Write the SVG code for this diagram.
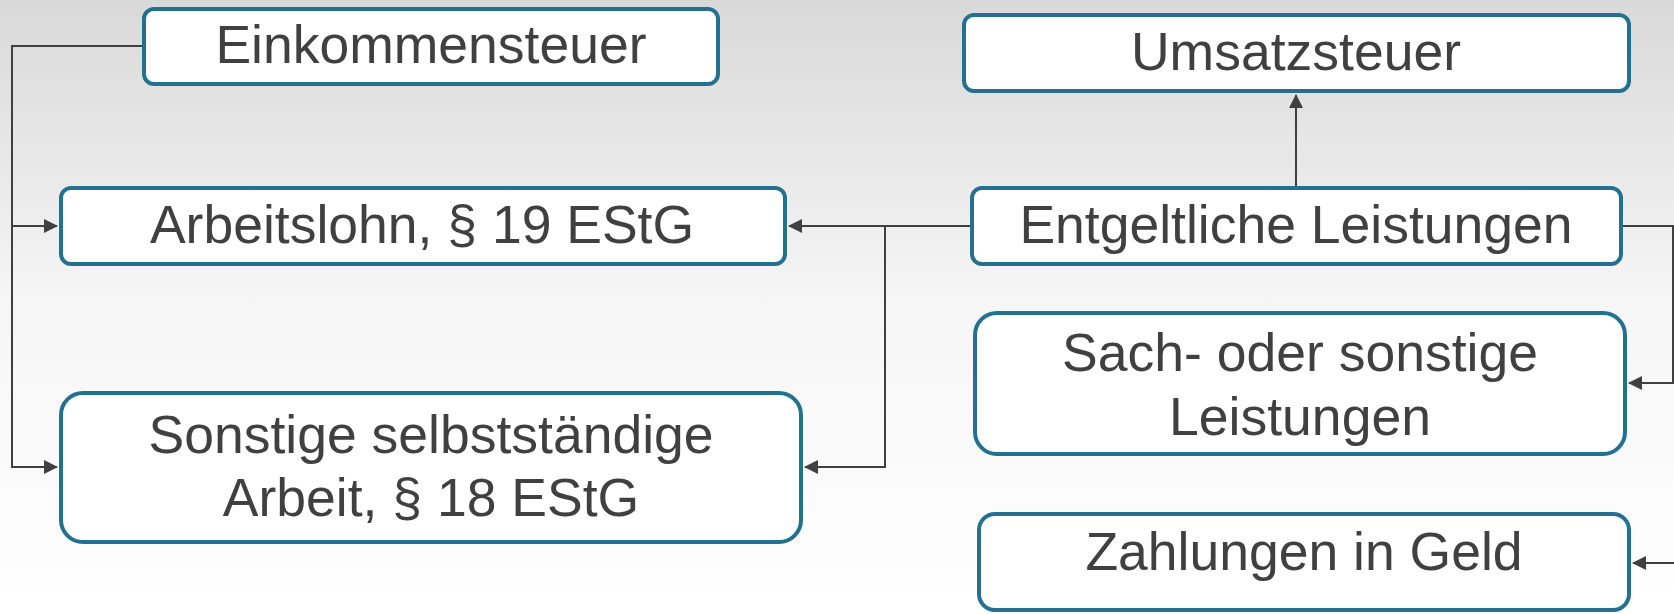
<svg xmlns="http://www.w3.org/2000/svg" width="1674" height="614" viewBox="0 0 1674 614">
<defs>
<linearGradient id="bg" x1="0" y1="0" x2="0" y2="1">
<stop offset="0" stop-color="#d9d9d9"/>
<stop offset="0.5" stop-color="#f6f6f6"/>
<stop offset="1" stop-color="#ffffff"/>
</linearGradient>
<marker id="arr" markerUnits="userSpaceOnUse" markerWidth="14" markerHeight="14" refX="13" refY="7" orient="auto">
<path d="M0,0 L14,7 L0,14 z" fill="#404040"/>
</marker>
<style>
.box{fill:#ffffff;stroke:#24708f;stroke-width:4}
.lbl{font-family:"Liberation Sans",Arial,sans-serif;font-size:53.5px;fill:#404040;text-anchor:middle}
.con{fill:none;stroke:#404040;stroke-width:2}
</style>
</defs>
<rect x="0" y="0" width="1674" height="614" fill="url(#bg)"/>
<g id="connectors">
<path class="con" d="M142,46 H12 V467 H57" marker-end="url(#arr)"/>
<path class="con" d="M12,226 H57" marker-end="url(#arr)"/>
<path class="con" d="M970,226 H789" marker-end="url(#arr)"/>
<path class="con" d="M885,226 V467 H805" marker-end="url(#arr)"/>
<path class="con" d="M1296,186 V95" marker-end="url(#arr)"/>
<path class="con" d="M1623,226 H1673 V383 H1629" marker-end="url(#arr)"/>
<path class="con" d="M1678,563 H1633" marker-end="url(#arr)"/>
</g>
<g id="einkommensteuer">
<rect class="box" x="144" y="9" width="574" height="75" rx="10"/>
<text class="lbl" x="431" y="63">Einkommensteuer</text>
</g>
<g id="arbeitslohn">
<rect class="box" x="61" y="188" width="724" height="76" rx="10"/>
<text class="lbl" x="422" y="243">Arbeitslohn, § 19 EStG</text>
</g>
<g id="sonstige">
<rect class="box" x="61" y="393" width="740" height="149" rx="22"/>
<text class="lbl" x="431" y="453">Sonstige selbstständige</text>
<text class="lbl" x="431" y="516">Arbeit, § 18 EStG</text>
</g>
<g id="umsatzsteuer">
<rect class="box" x="964" y="15" width="665" height="76" rx="10"/>
<text class="lbl" x="1296" y="70">Umsatzsteuer</text>
</g>
<g id="entgeltliche">
<rect class="box" x="972" y="188" width="649" height="76" rx="10"/>
<text class="lbl" x="1296" y="243">Entgeltliche Leistungen</text>
</g>
<g id="sach">
<rect class="box" x="975" y="313" width="650" height="141" rx="22"/>
<text class="lbl" x="1300" y="371">Sach- oder sonstige</text>
<text class="lbl" x="1300" y="435">Leistungen</text>
</g>
<g id="zahlungen">
<rect class="box" x="979" y="514" width="650" height="96" rx="16"/>
<text class="lbl" x="1304" y="570">Zahlungen in Geld</text>
</g>
</svg>
